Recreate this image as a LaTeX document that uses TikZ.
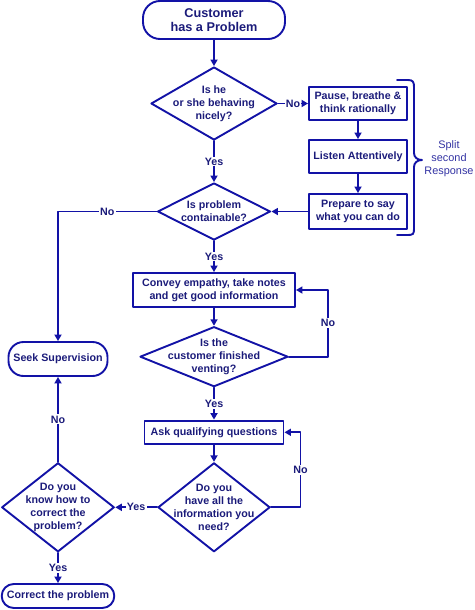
\documentclass[tikz,border=0pt]{standalone}
\usepackage{fontspec}
\setmainfont{Liberation Sans}
\usepackage{xcolor}
\usepackage{tikz}
\usetikzlibrary{arrows.meta,shapes.geometric}
\definecolor{flowline}{HTML}{1212A6}
\definecolor{flowtext}{HTML}{1B1B7A}
\definecolor{bracetext}{HTML}{3333A3}
\tikzset{
  FlowLine/.style={draw=flowline, line width=1.9pt},
  FlowArrow/.style={FlowLine, -{Triangle[length=6.5pt,width=7pt]}},
  StepBox/.style={
    draw=flowline, line width=1.9pt, rectangle,
    inner sep=0pt, align=center, text=flowtext,
    font=\fontsize{10.7}{12.7}\selectfont\bfseries
  },
  EndBox/.style={StepBox, rounded corners=#1},
  Decision/.style={
    draw=flowline, line width=1.9pt, diamond,
    inner sep=0pt
  },
  QText/.style={
    align=center, text=flowtext, inner sep=0pt,
    font=\fontsize{10.7}{13}\selectfont\bfseries
  },
  EdgeLbl/.style={
    fill=white, inner sep=1.2pt, text=flowtext,
    font=\fontsize{10.7}{12.7}\selectfont\bfseries
  }
}

\begin{document}
\begin{tikzpicture}[x=1pt, y=-1pt, line cap=round, line join=round]
  \useasboundingbox (0,0) rectangle (474,610);

  % main column
  \node[EndBox=17, minimum width=142pt, minimum height=38pt,
        font=\fontsize{12.7}{14.7}\selectfont\bfseries] (start) at (214,20) {Customer\\has a Problem};
  \node[Decision, minimum width=126pt, minimum height=73pt,
        label={[QText]center:{Is he\\or she behaving\\nicely?}}] (behave) at (214,103.5) {};
  \node[Decision, minimum width=113pt, minimum height=57pt,
        label={[QText]center:{Is problem\\containable?}}] (contain) at (214,211.5) {};
  \node[StepBox, minimum width=162pt, minimum height=34pt] (empathy) at (214,290) {Convey empathy, take notes\\and get good information};
  \node[Decision, minimum width=148pt, minimum height=60pt,
        label={[QText]center:{Is the\\customer finished\\venting?}}] (vent) at (214,356.7) {};
  \node[StepBox, minimum width=139pt, minimum height=23.5pt] (ask) at (214,432.3) {Ask qualifying questions};
  \node[Decision, minimum width=112pt, minimum height=89pt,
        label={[QText]center:{Do you\\have all the\\information you\\need?}}] (info) at (214,507.3) {};

  % split second response column
  \node[StepBox, minimum width=98pt, minimum height=33pt] (pause) at (358,103.5) {Pause, breathe \&\\think rationally};
  \node[StepBox, minimum width=98pt, minimum height=33pt] (listen) at (358,156.5) {Listen Attentively};
  \node[StepBox, minimum width=98pt, minimum height=35pt] (prepare) at (358,211.5) {Prepare to say\\what you can do};

  % left column
  \node[EndBox=15, minimum width=99pt, minimum height=34pt] (seek) at (58,359) {Seek Supervision};
  \node[Decision, minimum width=112.6pt, minimum height=89pt,
        label={[QText]center:{Do you\\know how to\\correct the\\problem?}}] (know) at (58,507.3) {};
  \node[EndBox=12, minimum width=112.6pt, minimum height=24pt] (correct) at (58,596) {Correct the problem};

  % brace and its label
  \draw[FlowLine] (397,80) -- (408,80) .. controls (413,80) and (414,82) .. (414,87)
    -- (414,153) .. controls (414,157) and (417,160) .. (422,160)
    .. controls (417,160) and (414,163) .. (414,167)
    -- (414,229) .. controls (414,234) and (413,235) .. (408,235) -- (397,235);
  \node[text=bracetext, align=center, font=\fontsize{10.9}{13}\selectfont] (split) at (449,159) {Split\\second\\Response};

  % connectors
  \draw[FlowArrow] (start) -- (behave);
  \draw[FlowArrow] (behave) -- node[EdgeLbl]{No} (pause);
  \draw[FlowArrow] (pause) -- (listen);
  \draw[FlowArrow] (listen) -- (prepare);
  \draw[FlowArrow] (prepare) -- (contain);
  \draw[FlowArrow] (behave) -- node[EdgeLbl]{Yes} (contain);
  \draw[FlowArrow] (contain.west) -| node[EdgeLbl, pos=0.25]{No} (seek);
  \draw[FlowArrow] (contain) -- node[EdgeLbl]{Yes} (empathy);
  \draw[FlowArrow] (empathy) -- (vent);
  \draw[FlowArrow] (vent.east) -| node[EdgeLbl, pos=0.75]{No} ([xshift=32pt]empathy.east) -- (empathy.east);
  \draw[FlowArrow] (vent) -- node[EdgeLbl]{Yes} (ask);
  \draw[FlowArrow] (ask) -- (info);
  \draw[FlowArrow] (info.east) -| node[EdgeLbl, pos=0.75]{No} ([xshift=16pt]ask.east) -- (ask.east);
  \draw[FlowArrow] (info) -- node[EdgeLbl]{Yes} (know);
  \draw[FlowArrow] (know) -- node[EdgeLbl]{No} (seek);
  \draw[FlowArrow] (know) -- node[EdgeLbl]{Yes} (correct);
\end{tikzpicture}
\end{document}
